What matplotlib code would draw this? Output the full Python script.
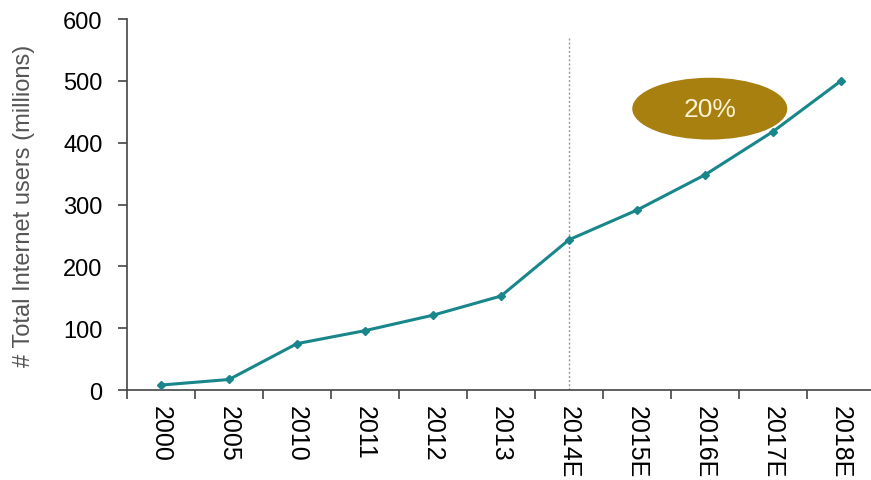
import matplotlib.pyplot as plt
from matplotlib.patches import Ellipse

# internet users, millions (E = estimate)
years = ["2000", "2005", "2010", "2011", "2012", "2013",
         "2014E", "2015E", "2016E", "2017E", "2018E"]
users = [8, 17, 75, 96, 121, 152, 243, 291, 348, 418, 500]
growth_label = "20%"

plt.rcParams['font.family'] = ['Liberation Sans', 'DejaVu Sans']

fig = plt.figure(figsize=(8.71, 4.81), dpi=100)
ax = fig.add_axes([0.1458, 0.1871, 0.8588, 0.7713])

x = list(range(len(years)))
ax.plot(x, users, color="#18868a", lw=2.2, marker="D", ms=4.5,
        markerfacecolor="#18868a", markeredgecolor="#18868a", zorder=3)

# split between actuals and estimates
split = years.index("2014E")
ax.plot([split, split], [0, 570], color="#999999", lw=1,
        ls=(0, (1.5, 1.5)), zorder=1)

# CAGR bubble
ax.add_patch(Ellipse((8.07, 455), 2.28, 100, facecolor="#a8800f",
                     edgecolor="none", zorder=4))
ax.text(8.07, 455, growth_label, ha="center", va="center",
        fontsize=19, color="#fbf3d5", zorder=5)

ax.set_xlim(-0.5, 10.5)
ax.set_ylim(0, 600)
ax.set_yticks(range(0, 601, 100))
ax.set_xticks(x)
ax.set_xticklabels(years, rotation=270, fontsize=18)
ax.set_xticks([i - 0.5 for i in range(len(years) + 1)], minor=True)
ax.tick_params(axis="x", which="major", length=0, pad=11)
ax.tick_params(axis="x", which="minor", length=6.5, width=1.2,
               color="#444444")
ax.tick_params(axis="y", length=6.5, width=1.2, color="#444444",
               pad=11, labelsize=17)

for s in ["top", "right"]:
    ax.spines[s].set_visible(False)
for s in ["left", "bottom"]:
    ax.spines[s].set_color("#444444")
    ax.spines[s].set_linewidth(1.2)

ax.set_ylabel("# Total Internet users (millions)", fontsize=17,
              color="#555555", labelpad=20)

fig.savefig("out.png", dpi=100)
